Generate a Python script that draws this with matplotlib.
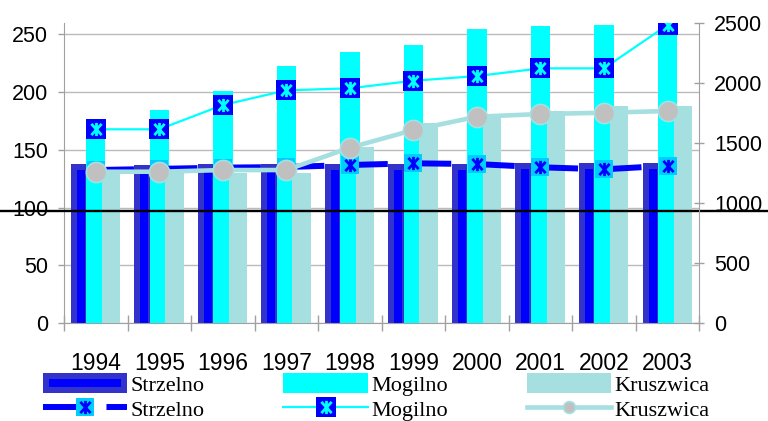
import matplotlib
matplotlib.use('Agg')
import matplotlib.pyplot as plt
import numpy as np
from matplotlib.path import Path
from matplotlib.patches import Rectangle
from matplotlib.legend_handler import HandlerPatch
from matplotlib.font_manager import FontProperties

# ---------------- data ----------------
years = ['1994', '1995', '1996', '1997', '1998', '1999', '2000', '2001', '2002', '2003']
strzelno_bar = [135, 134.5, 135, 135, 135, 135, 135, 135.5, 135.5, 135.5]
mogilno_bar = [163, 184, 201, 222, 234, 240, 254, 257, 258, 262]
kruszwica_bar = [130, 130, 130, 130, 152, 173, 180, 183, 188, 188]
strzelno_line = [1275, 1285, 1295, 1300, 1317, 1331, 1325, 1298, 1281, 1311]
mogilno_line = [1614, 1614, 1816, 1938, 1955, 2018, 2057, 2121, 2121, 2482]
kruszwica_line = [1261, 1261, 1275, 1275, 1461, 1608, 1719, 1741, 1752, 1766]
left_ticks = [0, 50, 100, 150, 200, 250]
right_ticks = [0, 500, 1000, 1500, 2000, 2500]
ref_level = 97
series_names = ['Strzelno', 'Mogilno', 'Kruszwica']

# ---------------- style ----------------
plt.rcParams['font.family'] = ['Liberation Sans', 'DejaVu Sans']
plt.rcParams['lines.scale_dashes'] = False

C_BLUE = '#0000FF'
C_SLATE = '#3333CC'
C_CYAN = '#00FFFF'
C_TEAL = '#A6DFE0'
C_SKY = '#00CCFF'
C_GRAY = '#C0C0C0'
C_AX = '#A0A0A0'

W, H = 768, 421
fig = plt.figure(figsize=(W / 100, H / 100), dpi=100)
ax_l, ax_r, ax_b, ax_t = 64, 699.3, 323.3, 22.8
ax = fig.add_axes([ax_l / W, 1 - ax_b / H, (ax_r - ax_l) / W, (ax_b - ax_t) / H])

x = np.arange(len(years))
cat_px = (ax_r - ax_l) / len(years)
edge_px = 6.0
edge_pt = edge_px * 72 / 100
hide_below = 5  # bars start slightly below the axis so the bottom edge stays hidden

# bars
b_s = ax.bar(x - 0.236, np.array(strzelno_bar) + hide_below, bottom=-hide_below,
             width=20 / cat_px - edge_px / cat_px,
             facecolor=C_BLUE, edgecolor=C_SLATE, linewidth=edge_pt,
             joinstyle='miter', zorder=2)
b_m = ax.bar(x, mogilno_bar, width=0.305, color=C_CYAN, linewidth=0, zorder=3)
b_k = ax.bar(x + 0.24, kruszwica_bar, width=0.29, color=C_TEAL, linewidth=0, zorder=4)

ax.set_xlim(-0.5, len(years) - 0.5)
ax.set_ylim(0, 259.5)
ax.set_yticks(left_ticks)
ax.yaxis.grid(True, color='#BBBBBB', linewidth=1)
ax.set_axisbelow(True)
ax.set_xticks(np.arange(-0.5, len(years), 1))
ax.set_xticklabels([])
ax.set_xticks(x, minor=True)
ax.set_xticklabels(years, minor=True)
ax.tick_params(axis='x', which='major', direction='inout', length=11, width=1, color=C_AX)
ax.tick_params(axis='x', which='minor', length=0, pad=21, labelsize=16.5)
ax.tick_params(axis='y', direction='out', length=4.3, width=1, color=C_AX,
               labelsize=15.5, pad=7.2)
for s in ['top', 'right']:
    ax.spines[s].set_visible(False)
for s in ['left', 'bottom']:
    ax.spines[s].set_color(C_AX)

# reference black line across the full width
ax.axhline(ref_level, xmin=-ax_l / (ax_r - ax_l), xmax=(W - ax_l) / (ax_r - ax_l),
           color='black', linewidth=1.7, clip_on=False, zorder=6)

# lines on right axis
ax2 = ax.twinx()
ax2.set_ylim(0, 2500)
ax2.set_yticks(right_ticks)
ax2.tick_params(axis='y', direction='inout', length=7.2, width=1, color=C_AX,
                labelsize=15.5, pad=7.2)
for s in ['top', 'left', 'bottom']:
    ax2.spines[s].set_visible(False)
ax2.spines['right'].set_color(C_AX)

star = Path([(0, -1), (0, 1), (-0.78, -0.85), (0.78, 0.85), (-0.78, 0.85), (0.78, -0.85)],
            [Path.MOVETO, Path.LINETO] * 3)

l_s, = ax2.plot(x, strzelno_line, color=C_BLUE, linewidth=4.3,
                linestyle=(0, (27.5, 18.2)), marker='s', markersize=13.5,
                markerfacecolor=C_SKY, markeredgewidth=0, zorder=3)
st_s, = ax2.plot(x, strzelno_line, linestyle='none', marker=star, markersize=9.5,
                 markerfacecolor='none', markeredgecolor=C_BLUE, markeredgewidth=2.0, zorder=3)
l_m, = ax2.plot(x, mogilno_line, color=C_CYAN, linewidth=1.6, marker='s', markersize=14,
                markerfacecolor=C_BLUE, markeredgewidth=0, zorder=4)
st_m, = ax2.plot(x, mogilno_line, linestyle='none', marker=star, markersize=9.5,
                 markerfacecolor='none', markeredgecolor=C_CYAN, markeredgewidth=2.0, zorder=4)
l_k, = ax2.plot(x, kruszwica_line, color=C_TEAL, linewidth=3.3, marker='o', markersize=14.5,
                markerfacecolor=C_GRAY, markeredgecolor=C_TEAL, markeredgewidth=1.2, zorder=5)


def inset_rect(legend, orig_handle, xdescent, ydescent, width, height, fontsize):
    d = edge_pt / 2
    return Rectangle((-xdescent + d, -ydescent + d), width - 2 * d, height - 2 * d)


h_s = b_s.patches[0]
leg = fig.legend(handles=[h_s, (l_s, st_s), b_m.patches[0], (l_m, st_m), b_k.patches[0], l_k],
                 labels=[series_names[0], series_names[0], series_names[1], series_names[1],
                         series_names[2], series_names[2]],
                 ncol=3, loc='center left', bbox_to_anchor=(42.7 / W, 1 - 397 / H),
                 frameon=False, prop=FontProperties(family='Liberation Serif', size=16),
                 handlelength=3.8, handleheight=1.0, handletextpad=0.15,
                 columnspacing=3.55, labelspacing=0.12, borderpad=0, borderaxespad=0,
                 numpoints=1,
                 handler_map={h_s: HandlerPatch(patch_func=inset_rect)})
leg.legend_handles[5].set_markersize(8.5)

fig.savefig('out.png', dpi=100)
